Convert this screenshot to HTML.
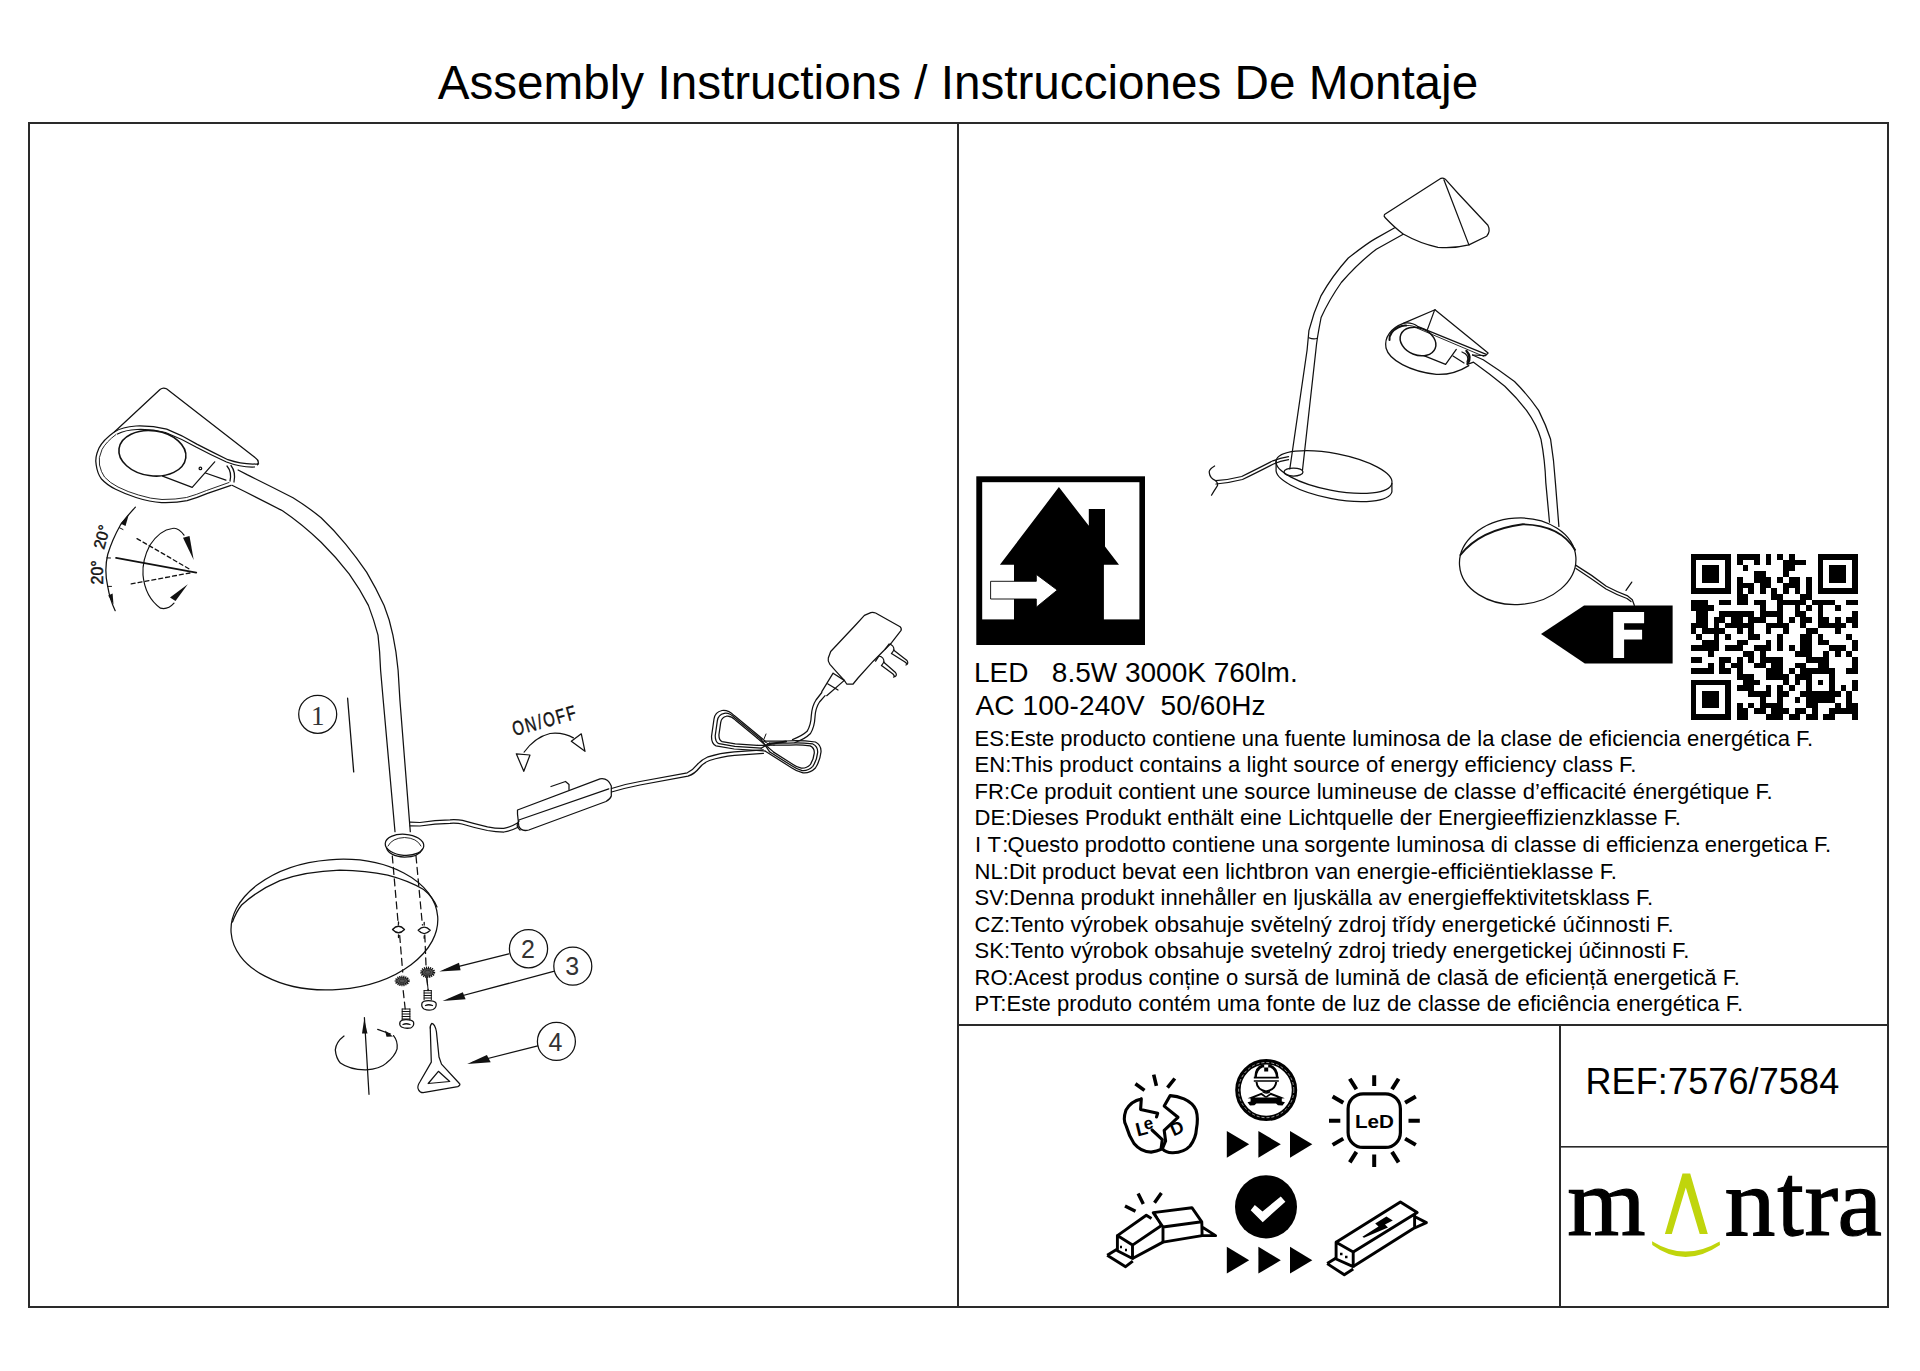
<!DOCTYPE html>
<html><head><meta charset="utf-8"><title>Assembly Instructions</title>
<style>
html,body{margin:0;padding:0;background:#fff;}
body{width:1920px;height:1371px;overflow:hidden;position:relative;font-family:"Liberation Sans",sans-serif;}
svg{position:absolute;left:0;top:0;}
.t{font-family:"Liberation Sans",sans-serif;fill:#000;}
.p{font-size:22px;}
.ln{fill:none;stroke:#000;stroke-width:1.2;stroke-linejoin:round;stroke-linecap:round;}
</style></head><body>
<svg width="1920" height="1371" viewBox="0 0 1920 1371">
<!-- frame -->
<g fill="#2a2a2a">
<rect x="28" y="122" width="1861" height="2"/>
<rect x="28" y="1306" width="1861" height="2"/>
<rect x="28" y="122" width="2" height="1186"/>
<rect x="1887" y="122" width="2" height="1186"/>
<rect x="957" y="122" width="2" height="1186"/>
<rect x="957" y="1024" width="932" height="2"/>
<rect x="1559" y="1024" width="2" height="284"/>
<rect x="1559" y="1146" width="330" height="1.6"/>
</g>
<!-- text -->
<text class="t" x="437.7" y="99" font-size="48" textLength="1040.5" lengthAdjust="spacingAndGlyphs">Assembly Instructions / Instrucciones De Montaje</text>
<text class="t" x="974" y="682.3" font-size="28" xml:space="preserve">LED   8.5W 3000K 760lm.</text>
<text class="t" x="975.5" y="714.8" font-size="28" textLength="290" xml:space="preserve">AC 100-240V  50/60Hz</text>
<g class="t p">
<text x="974.5" y="745.6" textLength="838.7">ES:Este producto contiene una fuente luminosa de la clase de eficiencia energética F.</text>
<text x="974.5" y="772.2" textLength="661.8">EN:This product contains a light source of energy efficiency class F.</text>
<text x="974.5" y="798.8" textLength="798.1">FR:Ce produit contient une source lumineuse de classe d’efficacité énergétique F.</text>
<text x="974.5" y="825.3" textLength="706.3">DE:Dieses Produkt enthält eine Lichtquelle der Energieeffizienzklasse F.</text>
<text y="851.9"><tspan x="975">I</tspan><tspan x="987.6">T</tspan><tspan x="1002.3">:</tspan></text><text x="1007.6" y="851.9" textLength="823.5">Questo prodotto contiene una sorgente luminosa di classe di efficienza energetica F.</text>
<text x="974.5" y="878.5" textLength="642.3">NL:Dit product bevat een lichtbron van energie-efficiëntieklasse F.</text>
<text x="974.5" y="905.1" textLength="678.6">SV:Denna produkt innehåller en ljuskälla av energieffektivitetsklass F.</text>
<text x="974.5" y="931.7" textLength="699.0">CZ:Tento výrobek obsahuje světelný zdroj třídy energetické účinnosti F.</text>
<text x="974.5" y="958.2" textLength="714.8">SK:Tento výrobok obsahuje svetelný zdroj triedy energetickej účinnosti F.</text>
<text x="974.5" y="984.8" textLength="765.4">RO:Acest produs conține o sursă de lumină de clasă de eficiență energetică F.</text>
<text x="974.5" y="1011.4" textLength="768.5">PT:Este produto contém uma fonte de luz de classe de eficiência energética F.</text>
</g>
<text class="t" x="1585.5" y="1094" font-size="36" textLength="253.7">REF:7576/7584</text>
<g font-family="Liberation Serif" font-size="98" fill="#000" stroke="#000" stroke-width="1.2">
<text transform="translate(1567.3,1235) scale(1.027,1)">m</text>
<text transform="translate(1724.5,1235) scale(1.039,1)">n</text>
<text transform="translate(1777.2,1235) scale(0.97,1.05)">t</text>
<text transform="translate(1804.4,1235) scale(1.03,1)">r</text>
<text transform="translate(1837.6,1235) scale(1.02,1)">a</text>
</g>
<g fill="#c0d50c">
<path d="M1664.9,1233.9 L1682.5,1173.4 L1690.2,1173.4 L1707.8,1233.9 L1699.7,1233.9 L1685.8,1187.6 L1671.8,1233.9 Z"/>
<path d="M1652,1241.2 Q1685,1261.8 1719.6,1241.4 L1720,1245 Q1685,1269 1652.3,1245 Z"/>
</g>
<!-- house / indoor icon -->
<rect x="976.3" y="476.3" width="168.7" height="168.7" fill="#000"/>
<rect x="982.2" y="482.2" width="157.2" height="137.2" fill="#fff"/>
<path fill="#000" d="M999.9,564.8 L1058.9,487.1 L1088.8,525.8 L1088.8,509.1 L1105,509.1 L1105,546.6 L1119,564.8 L1103.9,564.8 L1103.9,620 L1014,620 L1014,564.8 Z"/>
<path fill="#fff" stroke="#000" stroke-width="0.9" d="M990.6,581.3 H1036.3 V574.4 L1057.3,590.1 L1036.3,607.2 V599 H990.6 Z"/>
<!-- energy class F -->
<path fill="#000" d="M1541,633.9 L1584.1,605.6 H1672.6 V663.4 H1584.8 Z"/>
<path fill="#fff" d="M1613.2,612 H1644.1 V623.3 H1624.1 V629.7 H1642.1 V639.6 H1624.1 V658.1 H1613.2 Z"/>
<path fill="#000" shape-rendering="crispEdges" d="M1690.60,553.90h40.41v5.72h-40.41zM1736.78,553.90h23.09v5.72h-23.09zM1765.64,553.90h5.77v5.72h-5.77zM1777.19,553.90h5.77v5.72h-5.77zM1788.73,553.90h5.77v5.72h-5.77zM1817.59,553.90h40.41v5.72h-40.41zM1690.60,559.62h5.77v5.72h-5.77zM1725.23,559.62h5.77v5.72h-5.77zM1736.78,559.62h5.77v5.72h-5.77zM1754.10,559.62h5.77v5.72h-5.77zM1765.64,559.62h5.77v5.72h-5.77zM1782.96,559.62h23.09v5.72h-23.09zM1817.59,559.62h5.77v5.72h-5.77zM1852.23,559.62h5.77v5.72h-5.77zM1690.60,565.34h5.77v5.72h-5.77zM1702.14,565.34h17.32v5.72h-17.32zM1725.23,565.34h5.77v5.72h-5.77zM1742.55,565.34h5.77v5.72h-5.77zM1782.96,565.34h11.54v5.72h-11.54zM1817.59,565.34h5.77v5.72h-5.77zM1829.14,565.34h17.32v5.72h-17.32zM1852.23,565.34h5.77v5.72h-5.77zM1690.60,571.06h5.77v5.72h-5.77zM1702.14,571.06h17.32v5.72h-17.32zM1725.23,571.06h5.77v5.72h-5.77zM1754.10,571.06h11.54v5.72h-11.54zM1782.96,571.06h5.77v5.72h-5.77zM1817.59,571.06h5.77v5.72h-5.77zM1829.14,571.06h17.32v5.72h-17.32zM1852.23,571.06h5.77v5.72h-5.77zM1690.60,576.78h5.77v5.72h-5.77zM1702.14,576.78h17.32v5.72h-17.32zM1725.23,576.78h5.77v5.72h-5.77zM1736.78,576.78h5.77v5.72h-5.77zM1754.10,576.78h17.32v5.72h-17.32zM1777.19,576.78h5.77v5.72h-5.77zM1788.73,576.78h11.54v5.72h-11.54zM1806.05,576.78h5.77v5.72h-5.77zM1817.59,576.78h5.77v5.72h-5.77zM1829.14,576.78h17.32v5.72h-17.32zM1852.23,576.78h5.77v5.72h-5.77zM1690.60,582.50h5.77v5.72h-5.77zM1725.23,582.50h5.77v5.72h-5.77zM1736.78,582.50h17.32v5.72h-17.32zM1759.87,582.50h11.54v5.72h-11.54zM1782.96,582.50h17.32v5.72h-17.32zM1806.05,582.50h5.77v5.72h-5.77zM1817.59,582.50h5.77v5.72h-5.77zM1852.23,582.50h5.77v5.72h-5.77zM1690.60,588.22h40.41v5.72h-40.41zM1736.78,588.22h5.77v5.72h-5.77zM1748.32,588.22h5.77v5.72h-5.77zM1759.87,588.22h5.77v5.72h-5.77zM1771.41,588.22h5.77v5.72h-5.77zM1782.96,588.22h5.77v5.72h-5.77zM1794.50,588.22h5.77v5.72h-5.77zM1806.05,588.22h5.77v5.72h-5.77zM1817.59,588.22h40.41v5.72h-40.41zM1736.78,593.94h11.54v5.72h-11.54zM1771.41,593.94h11.54v5.72h-11.54zM1800.28,593.94h11.54v5.72h-11.54zM1690.60,599.67h17.32v5.72h-17.32zM1719.46,599.67h11.54v5.72h-11.54zM1736.78,599.67h11.54v5.72h-11.54zM1754.10,599.67h11.54v5.72h-11.54zM1777.19,599.67h28.86v5.72h-28.86zM1811.82,599.67h23.09v5.72h-23.09zM1846.46,599.67h11.54v5.72h-11.54zM1690.60,605.39h23.09v5.72h-23.09zM1759.87,605.39h5.77v5.72h-5.77zM1777.19,605.39h5.77v5.72h-5.77zM1794.50,605.39h5.77v5.72h-5.77zM1806.05,605.39h5.77v5.72h-5.77zM1817.59,605.39h5.77v5.72h-5.77zM1834.91,605.39h5.77v5.72h-5.77zM1696.37,611.11h11.54v5.72h-11.54zM1719.46,611.11h34.63v5.72h-34.63zM1759.87,611.11h23.09v5.72h-23.09zM1794.50,611.11h11.54v5.72h-11.54zM1817.59,611.11h5.77v5.72h-5.77zM1852.23,611.11h5.77v5.72h-5.77zM1696.37,616.83h11.54v5.72h-11.54zM1713.69,616.83h11.54v5.72h-11.54zM1731.01,616.83h11.54v5.72h-11.54zM1748.32,616.83h17.32v5.72h-17.32zM1777.19,616.83h5.77v5.72h-5.77zM1788.73,616.83h5.77v5.72h-5.77zM1800.28,616.83h11.54v5.72h-11.54zM1817.59,616.83h11.54v5.72h-11.54zM1834.91,616.83h5.77v5.72h-5.77zM1846.46,616.83h11.54v5.72h-11.54zM1690.60,622.55h17.32v5.72h-17.32zM1713.69,622.55h5.77v5.72h-5.77zM1725.23,622.55h28.86v5.72h-28.86zM1765.64,622.55h23.09v5.72h-23.09zM1800.28,622.55h5.77v5.72h-5.77zM1817.59,622.55h28.86v5.72h-28.86zM1852.23,622.55h5.77v5.72h-5.77zM1690.60,628.27h5.77v5.72h-5.77zM1702.14,628.27h23.09v5.72h-23.09zM1736.78,628.27h5.77v5.72h-5.77zM1748.32,628.27h5.77v5.72h-5.77zM1765.64,628.27h5.77v5.72h-5.77zM1782.96,628.27h5.77v5.72h-5.77zM1806.05,628.27h11.54v5.72h-11.54zM1834.91,628.27h5.77v5.72h-5.77zM1696.37,633.99h5.77v5.72h-5.77zM1713.69,633.99h5.77v5.72h-5.77zM1725.23,633.99h5.77v5.72h-5.77zM1748.32,633.99h11.54v5.72h-11.54zM1777.19,633.99h5.77v5.72h-5.77zM1800.28,633.99h11.54v5.72h-11.54zM1817.59,633.99h5.77v5.72h-5.77zM1846.46,633.99h5.77v5.72h-5.77zM1702.14,639.71h17.32v5.72h-17.32zM1736.78,639.71h11.54v5.72h-11.54zM1765.64,639.71h5.77v5.72h-5.77zM1777.19,639.71h5.77v5.72h-5.77zM1800.28,639.71h11.54v5.72h-11.54zM1817.59,639.71h11.54v5.72h-11.54zM1852.23,639.71h5.77v5.72h-5.77zM1690.60,645.43h28.86v5.72h-28.86zM1725.23,645.43h17.32v5.72h-17.32zM1754.10,645.43h17.32v5.72h-17.32zM1777.19,645.43h5.77v5.72h-5.77zM1788.73,645.43h5.77v5.72h-5.77zM1800.28,645.43h11.54v5.72h-11.54zM1829.14,645.43h17.32v5.72h-17.32zM1852.23,645.43h5.77v5.72h-5.77zM1707.92,651.15h5.77v5.72h-5.77zM1742.55,651.15h11.54v5.72h-11.54zM1759.87,651.15h5.77v5.72h-5.77zM1794.50,651.15h17.32v5.72h-17.32zM1823.37,651.15h5.77v5.72h-5.77zM1834.91,651.15h5.77v5.72h-5.77zM1846.46,651.15h5.77v5.72h-5.77zM1690.60,656.87h11.54v5.72h-11.54zM1719.46,656.87h11.54v5.72h-11.54zM1736.78,656.87h5.77v5.72h-5.77zM1748.32,656.87h5.77v5.72h-5.77zM1759.87,656.87h23.09v5.72h-23.09zM1806.05,656.87h23.09v5.72h-23.09zM1852.23,656.87h5.77v5.72h-5.77zM1707.92,662.59h5.77v5.72h-5.77zM1719.46,662.59h5.77v5.72h-5.77zM1731.01,662.59h11.54v5.72h-11.54zM1754.10,662.59h11.54v5.72h-11.54zM1771.41,662.59h11.54v5.72h-11.54zM1794.50,662.59h11.54v5.72h-11.54zM1817.59,662.59h11.54v5.72h-11.54zM1852.23,662.59h5.77v5.72h-5.77zM1690.60,668.31h23.09v5.72h-23.09zM1719.46,668.31h11.54v5.72h-11.54zM1736.78,668.31h5.77v5.72h-5.77zM1765.64,668.31h17.32v5.72h-17.32zM1788.73,668.31h5.77v5.72h-5.77zM1800.28,668.31h34.63v5.72h-34.63zM1846.46,668.31h11.54v5.72h-11.54zM1736.78,674.03h17.32v5.72h-17.32zM1765.64,674.03h23.09v5.72h-23.09zM1794.50,674.03h17.32v5.72h-17.32zM1829.14,674.03h5.77v5.72h-5.77zM1690.60,679.76h40.41v5.72h-40.41zM1742.55,679.76h17.32v5.72h-17.32zM1782.96,679.76h5.77v5.72h-5.77zM1794.50,679.76h5.77v5.72h-5.77zM1806.05,679.76h5.77v5.72h-5.77zM1817.59,679.76h5.77v5.72h-5.77zM1829.14,679.76h5.77v5.72h-5.77zM1852.23,679.76h5.77v5.72h-5.77zM1690.60,685.48h5.77v5.72h-5.77zM1725.23,685.48h5.77v5.72h-5.77zM1736.78,685.48h17.32v5.72h-17.32zM1765.64,685.48h5.77v5.72h-5.77zM1777.19,685.48h5.77v5.72h-5.77zM1788.73,685.48h5.77v5.72h-5.77zM1806.05,685.48h5.77v5.72h-5.77zM1829.14,685.48h5.77v5.72h-5.77zM1840.68,685.48h5.77v5.72h-5.77zM1852.23,685.48h5.77v5.72h-5.77zM1690.60,691.20h5.77v5.72h-5.77zM1702.14,691.20h17.32v5.72h-17.32zM1725.23,691.20h5.77v5.72h-5.77zM1748.32,691.20h23.09v5.72h-23.09zM1777.19,691.20h11.54v5.72h-11.54zM1800.28,691.20h40.41v5.72h-40.41zM1846.46,691.20h5.77v5.72h-5.77zM1690.60,696.92h5.77v5.72h-5.77zM1702.14,696.92h17.32v5.72h-17.32zM1725.23,696.92h5.77v5.72h-5.77zM1759.87,696.92h5.77v5.72h-5.77zM1777.19,696.92h5.77v5.72h-5.77zM1794.50,696.92h5.77v5.72h-5.77zM1806.05,696.92h28.86v5.72h-28.86zM1846.46,696.92h5.77v5.72h-5.77zM1690.60,702.64h5.77v5.72h-5.77zM1702.14,702.64h17.32v5.72h-17.32zM1725.23,702.64h5.77v5.72h-5.77zM1736.78,702.64h5.77v5.72h-5.77zM1748.32,702.64h5.77v5.72h-5.77zM1759.87,702.64h23.09v5.72h-23.09zM1806.05,702.64h11.54v5.72h-11.54zM1834.91,702.64h5.77v5.72h-5.77zM1846.46,702.64h11.54v5.72h-11.54zM1690.60,708.36h5.77v5.72h-5.77zM1725.23,708.36h5.77v5.72h-5.77zM1736.78,708.36h11.54v5.72h-11.54zM1754.10,708.36h11.54v5.72h-11.54zM1771.41,708.36h17.32v5.72h-17.32zM1794.50,708.36h11.54v5.72h-11.54zM1811.82,708.36h5.77v5.72h-5.77zM1829.14,708.36h28.86v5.72h-28.86zM1690.60,714.08h40.41v5.72h-40.41zM1736.78,714.08h11.54v5.72h-11.54zM1765.64,714.08h17.32v5.72h-17.32zM1788.73,714.08h11.54v5.72h-11.54zM1806.05,714.08h11.54v5.72h-11.54zM1823.37,714.08h11.54v5.72h-11.54zM1852.23,714.08h5.77v5.72h-5.77z"/>
<!-- triangles -->
<g fill="#000">
<path d="M1226.8,1131 L1249.2,1144.3 L1226.8,1157.8 Z"/>
<path d="M1258.4,1131 L1280.8,1144.3 L1258.4,1157.8 Z"/>
<path d="M1290,1131 L1312.3,1144.3 L1290,1157.8 Z"/>
<path d="M1226.8,1246.8 L1249.2,1260.3 L1226.8,1273.6 Z"/>
<path d="M1258.4,1246.8 L1280.8,1260.3 L1258.4,1273.6 Z"/>
<path d="M1290,1246.8 L1312.3,1260.3 L1290,1273.6 Z"/>
</g>
<!-- check circle -->
<ellipse cx="1266" cy="1206.8" rx="31" ry="31.6" fill="#000"/>
<path fill="#fff" d="M1250.7,1210.2 L1254.8,1205 L1262.5,1211.5 L1280.8,1196.5 L1285.4,1201.7 L1262.7,1222.2 Z"/>
<!-- worker circle -->
<circle cx="1266.2" cy="1090.1" r="28.3" fill="none" stroke="#000" stroke-width="5.4"/>
<circle cx="1266.2" cy="1090.1" r="27.6" fill="none" stroke="#fff" stroke-width="0.6" stroke-dasharray="3,2"/>
<path fill="#000" d="M1254.5,1077.5 Q1254,1067.5 1262,1064.5 L1264.2,1064.5 L1264.2,1071.5 L1268.2,1071.5 L1268.2,1064.5 L1270.5,1064.5 Q1278.5,1067.5 1278.3,1077.5 L1276,1077.5 Q1275.5,1070 1270,1067.5 L1262.5,1067.5 Q1257,1070 1256.8,1077.5 Z"/>
<g fill="none" stroke="#000" stroke-linejoin="round">
<path d="M1253.8,1077.6 H1278.8 M1253.8,1081 H1278.8" stroke-width="1.7"/>
<path d="M1256.5,1082 Q1257,1089.5 1266,1091.5 Q1275.5,1089.5 1276.2,1082" stroke-width="2"/>
<path d="M1262.5,1091.5 Q1266,1094.5 1270,1091.5" stroke-width="1.6"/>
</g>
<path fill="#000" d="M1252,1096.5 L1261.5,1092.8 L1266,1096.2 L1270.8,1092.8 L1280.5,1096.5 L1284.8,1098.2 L1281.8,1098.6 L1281.8,1101.6 L1285,1102.2 L1282.5,1105.4 L1278,1105.2 L1276,1103.6 H1256.4 L1254.4,1105.2 L1250,1105.4 L1247.5,1102.2 L1250.6,1101.6 L1250.6,1098.6 L1247.6,1098.2 Z"/>
<path fill="#fff" d="M1254.5,1097.6 L1261.2,1095 L1266,1098 L1270.8,1095 L1277.6,1097.6 Z"/>
<!-- LED sun -->
<rect x="1348.1" y="1093.8" width="52.3" height="53.6" rx="15" fill="none" stroke="#000" stroke-width="3.2"/>
<g stroke="#000" stroke-width="4" stroke-linecap="butt">
<path d="M1374.2,1075.2 V1086 M1374.2,1154.6 V1167 M1329,1120.7 H1340.3 M1408.5,1120.7 H1419.8"/>
<path d="M1349.8,1078.8 L1356.4,1089.3 M1398.6,1078.8 L1392,1089.3 M1349.8,1162.4 L1356.4,1151.9 M1398.6,1162.4 L1392,1151.9"/>
<path d="M1332.6,1096.5 L1343.3,1102.8 M1415.8,1096.5 L1405.1,1102.8 M1332.6,1144.9 L1343.3,1138.6 M1415.8,1144.9 L1405.1,1138.6"/>
</g>
<text x="1355" y="1128.4" font-family="Liberation Sans" font-weight="bold" font-size="17.5" textLength="39" lengthAdjust="spacingAndGlyphs">LeD</text>
<!-- broken LED -->
<g fill="none" stroke="#000" stroke-width="3.1" stroke-linejoin="round" stroke-linecap="round">
<path d="M1141.3,1098.9 Q1131,1101 1126,1110 Q1122.5,1120 1126.2,1126 Q1129,1136 1134,1143.5 Q1141,1152 1151.1,1152.1 Q1157,1151.5 1161,1149.4 L1162.3,1139.6 L1152,1130 M1141.3,1098.9 L1140.6,1109.4 L1157.7,1113.3 L1156.5,1117"/>
<path d="M1170.2,1095.6 L1164.2,1106.1 L1178,1117.3 L1164.2,1130.4 L1165.6,1140.9 L1162.3,1148.8 Q1166,1153 1173,1152.7 Q1184,1152.5 1190,1146 Q1196,1138 1196.4,1129.1 Q1198.5,1118 1196,1110 Q1193,1103 1184,1098.9 Q1177,1096 1170.2,1095.6 Z"/>
<path d="M1135.4,1083.8 L1144.5,1090.4 M1153.7,1074.6 L1156.4,1085.8 M1174.8,1078.5 L1167.5,1087.7" stroke-width="3.6" stroke-linecap="butt"/>
</g>
<g font-family="Liberation Sans" font-weight="bold" fill="#000">
<text transform="translate(1137.5,1136.5) rotate(-14)" font-size="19">L</text>
<text transform="translate(1145,1130) rotate(-14)" font-size="17">e</text>
<text transform="translate(1173.5,1136.5) rotate(-24)" font-size="18">D</text>
</g>
<!-- broken box -->
<g fill="none" stroke="#000" stroke-width="2.9" stroke-linejoin="round">
<path d="M1117.4,1235.6 L1132.5,1245.1 L1132.5,1258.5 L1117.4,1250.7 Z"/>
<path d="M1117.4,1235.6 L1146.3,1215.2 L1151.5,1218.5 M1132.5,1245.1 L1161.1,1225.7 M1132.5,1258.5 L1163,1242.1"/>
<path d="M1107.2,1255.3 L1125.6,1266.7 L1132.8,1261.2 M1107.2,1255.3 L1117.4,1249"/>
<path d="M1153.2,1212.6 L1191.9,1207.7 L1201.8,1221.8 L1163,1227 Z M1163,1227 L1163,1242.1 L1202.1,1235.6 L1201.8,1221.8 M1202.1,1227 L1215.6,1235.6 L1202.1,1235.6"/>
<path d="M1125,1206 L1135.5,1211.3 M1138.1,1193.5 L1143.3,1204 M1161.4,1192.9 L1154.5,1202.7" stroke-width="3.4"/>
<path d="M1120,1247 h2 M1125,1250 h2" stroke-width="2.5"/>
</g>
<!-- driver box -->
<g fill="none" stroke="#000" stroke-width="2.9" stroke-linejoin="round">
<path d="M1336.1,1242.3 L1353.2,1252.1 L1353.2,1266.6 L1336.1,1259 Z"/>
<path d="M1336.1,1242.3 L1400.4,1201.9 L1417.2,1212.4 L1353.2,1252.1 M1353.2,1266.6 L1414.6,1227.8 L1414.6,1214"/>
<path d="M1327.2,1263.6 L1344.3,1274.8 L1353.2,1269 M1327.2,1263.6 L1336.1,1258"/>
<path d="M1415.5,1217 L1426.4,1222.6 L1414.6,1228"/>
<path d="M1340,1254 h2.5 M1345,1257 h2.5" stroke-width="2.5"/>
</g>
<path fill="#000" d="M1362.4,1236.8 L1378.5,1226.5 L1375.2,1223.5 L1386.4,1216.6 L1392.8,1220.5 L1385,1224.5 L1388,1227.5 L1364,1237.8 Z"/>
<path fill="#000" d="M1153.2,1212.6 L1160,1225.5 L1163,1227 L1156,1213.5 Z"/>
<!-- left panel assembly drawing -->
<g fill="none" stroke="#111" stroke-width="1.25" stroke-linejoin="round" stroke-linecap="round">
<!-- shade -->
<path d="M114.6,431.7 L160,389.5 Q163,387 166.5,388.8 L255,457.5 Q260,461 257.5,464.8"/>
<!-- head outer rim -->
<path d="M114.6,431.7 Q103,440 99,448 Q94.5,458 96.2,465 Q97.5,474 101.5,479 Q107,485 115.6,489.3 Q125,494 136,497.5 Q150,502 161.6,502.6 Q176,503 187.1,500.6 Q198,497.5 207.5,493.4 L231,485.3"/>
<path d="M116,434.5 Q106,442 102,449.5 Q98,458 99.5,465 Q101,472 104.5,477 Q110,483 118,487 Q128,492 138.5,495 Q151,499 162,499.5 Q176,499.5 186.5,497.5 Q197,494.5 206.5,490.5 L229,482.5" stroke-width="0.9"/>
<!-- rim top -->
<path d="M114.6,431.7 Q122,427 136,426 Q152,425.5 166.7,429.1 Q182,435 197.3,444.4 Q212,452 227.9,459.7 Q243,465 258.6,463.8"/>
<path d="M117.5,434 Q125,430 137,429.5 Q152,429 165.5,432.5 Q181,438.5 196,447 Q211,455 226.5,462 Q241,467.5 254.5,467"/>
<!-- lens -->
<ellipse cx="152.4" cy="453.3" rx="33.7" ry="22.5" transform="rotate(8 152.4 453.3)" stroke-width="1.6"/>
<!-- mount -->
<path d="M162.6,476.1 L192.2,487.3 L214.7,461.8"/>
<circle cx="200.4" cy="468.4" r="1.3"/>
<path d="M205.5,473 L225.9,480.2"/>
<path d="M227,466 Q232,472 230,481 M231,465.5 Q236,472 234,482"/>
<!-- neck stem -->
<path d="M238.1,470 L247.5,474.9 Q270,486 293,497.7 Q308,507 321.1,517.8 Q334,530 345.6,544.1 Q357,558 366.6,572.1 Q376,588 384.1,605.4 Q390,620 392.9,635.1 Q396.5,652 398.1,670.2 L399.9,700 L410.3,831.7"/>
<path d="M232,485.3 Q258,498 282.5,510.8 Q302,524 321.1,542.3 Q336,557 349.1,573.8 Q360,589 368.4,605.4 Q374,620 378,635.1 Q380,652 380.6,670.2 L383.2,700 L395,831.7"/>
<!-- rotation indicator -->
<path d="M135.4,507.1 Q127,516 120.3,525.2 Q112,540 107.7,554.5 Q104,570 107.7,586.4 Q110,600 115.2,610.7"/>
<path d="M119.4,527.7 L123,529.5 M106.8,557.9 L110.5,558 M107.7,586.4 L111.5,586.4" stroke-width="1"/>
<path d="M116.1,557.9 L196.2,572.6" stroke-width="1.9"/>
<path d="M137,538.6 L189,568.8 M131.2,583.9 L189.9,573" stroke-dasharray="4,3" stroke-width="1.3"/>
<path d="M184,535.2 Q178,527 172.3,528.5 Q160,530 150,545 Q142,560 143,575 Q145,597 160.5,608.2 Q168,610 174,603.2" stroke-width="1.2"/>
</g>
<g fill="#111">
<path d="M120.5,523.5 L128.8,514.5 L125.5,526 Z"/>
<path d="M108.2,595.5 L113.5,604.5 L112.6,593.6 Z"/>
<path d="M183,537.8 L189.5,536 L193.7,560 Z"/>
<path d="M187.8,584.3 L175.5,601 L170,597.5 Z"/>
</g>
<g font-family="Liberation Sans" font-size="16" fill="#111" stroke="#111" stroke-width="0.45">
<text transform="translate(104,550) rotate(-75)">20°</text>
<text transform="translate(102.8,584.5) rotate(-90)">20°</text>
</g>
<g fill="none" stroke="#111" stroke-width="1.25" stroke-linejoin="round" stroke-linecap="round">
<!-- circle 1 + line -->
<circle cx="317.7" cy="714.3" r="19"/>
<path d="M347.6,698.2 L353.7,771.9" stroke-width="1.3"/>
<!-- collar -->
<ellipse cx="404.5" cy="844.8" rx="19.3" ry="10.5" transform="rotate(4 404.5 844.8)"/>
<path d="M388,846 Q392,838 404.5,837.5 Q417,838 421,846" stroke-width="0.9"/>
<path d="M386.5,848 Q389,856 404.5,857.2 Q419,857 422.5,849"/>
<!-- cord from stem to switch (double) -->
<path d="M410,822.2 L420,822.5 Q435,820 450,819.8 Q458,819.5 462.5,820.4 Q475,824 487.5,826.8 Q496,828.5 503.8,828.3 Q511,827 517.5,823"/>
<path d="M410,825.8 L420,826 Q435,823.5 450,823.3 Q458,823 462,824 Q475,828 487.5,830.5 Q496,832 504,832 Q512,830.5 518.5,827"/>
<!-- switch -->
<path d="M517.5,810 L600,778.8 Q608,777.5 611.3,786 L611.3,796 Q610.5,799 606,801.5 L528.8,830 Q521,832 518.8,826 L517.5,814 Z"/>
<path d="M518.8,820 L608.8,788.8"/>
<path d="M519,821 Q515,826 520,830"/>
<path d="M551,786.5 L565.5,781.5 L569,784.5 L569,789.5"/>
<!-- cord switch -> coil -->
<path d="M611.5,788.5 Q625,784 640,781.5 Q665,777 687.3,772.8 Q693,770 696.7,765.2 Q701,760 708.1,756.8 Q720,753 734.2,751.8 L763.3,749.8"/>
<path d="M611.5,792 Q625,788 640,785 Q665,780.5 688,776.2 Q695,773.5 698.8,768.5 Q703,763 709.5,760.5 Q721,756.5 734.5,755.3 L763.5,753.3"/>
<!-- coil -->
<path d="M765,741 L734.2,715.6 Q728,709.5 722,710.5 Q715,712 714,719 L711.5,736.5 Q711.5,744 716,745.8 L734.2,749 L765,751" transform="translate(0.00,0.00) scale(1.0)" vector-effect="non-scaling-stroke"/>
<path d="M765,741 L786.3,741 Q800,740 815.4,742 Q821.5,745 821,752 Q820,761 815.4,768 Q810,773.5 803,772.9 Q796,771 791.5,767.7 L765,751" transform="translate(0.00,0.00) scale(1.0)" vector-effect="non-scaling-stroke"/>
<path d="M765,741 L734.2,715.6 Q728,709.5 722,710.5 Q715,712 714,719 L711.5,736.5 Q711.5,744 716,745.8 L734.2,749 L765,751" transform="translate(103.32,102.34) scale(0.86)" vector-effect="non-scaling-stroke"/>
<path d="M765,741 L786.3,741 Q800,740 815.4,742 Q821.5,745 821,752 Q820,761 815.4,768 Q810,773.5 803,772.9 Q796,771 791.5,767.7 L765,751" transform="translate(111.58,105.84) scale(0.86)" vector-effect="non-scaling-stroke"/>
<path d="M765,741 L734.2,715.6 Q728,709.5 722,710.5 Q715,712 714,719 L711.5,736.5 Q711.5,744 716,745.8 L734.2,749 L765,751" transform="translate(206.64,204.68) scale(0.72)" vector-effect="non-scaling-stroke"/>
<path d="M765,741 L786.3,741 Q800,740 815.4,742 Q821.5,745 821,752 Q820,761 815.4,768 Q810,773.5 803,772.9 Q796,771 791.5,767.7 L765,751" transform="translate(223.16,211.68) scale(0.72)" vector-effect="non-scaling-stroke"/>
<path d="M761.2,739.6 L769.5,751.7 M761.2,748.2 L769.5,743.1"/>
<path d="M757.4,738.2 L774.0,752.4 M757.4,745.4 L774.0,745.2"/>
<path d="M763,741 L767,743 Q770,744 769,746 M764,739 L766,734" stroke-width="1"/>
<path d="M770,744 L786,741.5" stroke-width="2.2"/>
<!-- cable coil -> adapter -->
<path d="M792.5,739.6 Q802,736 807.1,731.3 Q811,725 811.3,715.6 Q812,706 816,700 L821.8,692.5"/>
<path d="M795,742.5 Q805,739 810.5,733.5 Q814.5,727 815,717 Q815.5,708 819.5,702 L825.1,695.7"/>
<!-- strain relief -->
<path d="M821.8,691.7 L833.1,673.2 M826.7,695.7 L844.3,680.4 M833.1,673.2 L844.3,680.4 M828,684 L838,690" />
<!-- adapter body -->
<path d="M870.8,612.6 Q873,612 875.6,613 L900.1,626.7 Q902,629 900.9,630.7 L891.6,642.7 L873.2,661.2 L858,678 L853.1,684 L846.7,684 L844.3,680.4 L836.3,671.6 L829.9,664.4 Q827.5,661 828.3,658 L830.7,651.5 L856.3,624.3 L864.4,615.4 Z"/>
<!-- prongs -->
<path d="M885.2,649.1 L889,644 Q894,645 894,650 L891.5,653.5"/>
<path d="M891.5,653.5 L905,662 Q908.5,665 906.9,663.6 M893.5,650 L907,660.5 Q909,663.5 906,665"/>
<path d="M875.6,661.2 L879,656 Q884,657 884,662 L881.5,665.5"/>
<path d="M881.5,665.5 L893,674 Q895.5,677 893.5,677 M883.5,662 L895.5,672.5 Q897.5,675.5 894.9,676.6"/>
</g>
<!-- ON/OFF -->
<text transform="translate(514.5,736) rotate(-15.5) scale(0.74,1)" font-family="Liberation Sans" font-size="20" fill="#111" stroke="#111" stroke-width="0.5" textLength="88" lengthAdjust="spacing">ON/OFF</text>
<g fill="none" stroke="#111" stroke-width="1.25" stroke-linejoin="round">
<path d="M523.8,752.5 Q535,737 550,733.5 Q563,732 573.8,738.1"/>
<path d="M516.3,753.8 L530,755 L523.8,771.3 Z"/>
<path d="M571.3,741.3 L581.3,733.8 L585,751.3 Z"/>
</g>
<g fill="none" stroke="#111" stroke-width="1.25" stroke-linejoin="round" stroke-linecap="round">
<!-- base -->
<ellipse cx="334.4" cy="924.6" rx="103.6" ry="65" transform="rotate(-4.5 334.4 924.6)"/>
<path d="M232.5,922 Q236,912 241.6,905 Q258,890 279.9,880.6 Q305,871.5 339.8,870.2 Q366,870.5 387.7,875.2 Q408,880.5 423.6,889.5 Q433,897 437,907"/>
<!-- dashed guide lines -->
<path d="M392.3,856 L398.3,925 M399.7,935.5 L402.7,972 M403.2,990.6 L405.3,1010" stroke-dasharray="7,4.5"/>
<path d="M416,856 L422.4,925 M424.8,935 L426,965 M426.7,978 L428.2,990.6" stroke-dasharray="7,4.5"/>
<!-- holes -->
<path d="M392.5,929.5 Q398.5,923 404.5,929.5 Q398.5,936 392.5,929.5 Z M398.5,924 L398.5,922 M398.5,935 L398.5,937.5" stroke-width="1.3"/>
<path d="M418.2,930.3 Q424.2,923.8 430.2,930.3 Q424.2,936.8 418.2,930.3 Z M424.2,925 L424.2,922.5 M424.2,935.8 L424.2,938.3" stroke-width="1.3"/>
<!-- screws -->
<path d="M402.2,1009 L402.2,1020 M409.9,1009 L409.9,1020 M402.2,1009 L409.9,1009 M402.2,1011.5 H409.9 M402.2,1014 H409.9 M402.2,1016.5 H409.9 M402.2,1019 H409.9" stroke-width="1"/>
<path d="M400,1022 Q401,1019.5 406,1019.5 Q412,1019.5 413.5,1022 Q414.5,1026 411,1027.8 Q406,1029 401.5,1027 Q399,1025 400,1022 Z M403,1024.5 Q406,1023 410,1024.5"/>
<path d="M424.1,990.6 L424.1,999.8 M431.3,990.6 L431.3,999.8 M424.1,990.6 H431.3 M424.1,993 H431.3 M424.1,995.5 H431.3 M424.1,998 H431.3" stroke-width="1"/>
<path d="M422,1003 Q423,1000.5 428.5,1000.5 Q434.5,1000.5 436,1003 Q437,1007.5 433,1009.5 Q428.5,1011 424,1009 Q421,1007 422,1003 Z M425.5,1005.5 Q428.5,1004 432.5,1005.5"/>
<path d="M426.7,976.3 L428.2,990.6" stroke-width="1"/>
<!-- allen key -->
<path d="M431.8,1023.3 Q429.5,1026 430.3,1029.4 L431.3,1062.1 L420.1,1081.5 Q416.5,1087 418.5,1089.7 Q420,1092.7 423.1,1092.7 L457.8,1086.6 Q461,1085 459.4,1083.5 L441.5,1064.1 L439,1057 L436.4,1031.5 Q435,1024 431.8,1023.3 Z"/>
<path d="M428.2,1083.5 L438.4,1071.3 L449.7,1081.5 Z"/>
<!-- rotation arrow -->
<path d="M369,1094.3 L364.4,1017.7"/>
<path d="M344,1036 Q336,1042 335.3,1049.9 Q336,1058 340.4,1063.1 Q350,1070 366,1069.8 Q380,1069 386.4,1063.1 Q395,1056 397.1,1048.8 Q398,1041 393.5,1035.6"/>
<path d="M377.7,1029.4 L390.5,1034"/>
<!-- circles 2,3,4 -->
<circle cx="528.5" cy="948.7" r="19.1"/>
<circle cx="572.8" cy="966.2" r="19"/>
<circle cx="556.4" cy="1041.4" r="19"/>
<!-- arrows -->
<path d="M508.8,953.9 L445,969.8 M553.6,971.4 L448,999.5 M537.8,1045.8 L472,1062.5"/>
</g>
<g fill="#111">
<path d="M362,1033.5 L364.2,1019 L367.5,1033.5 Z"/>
<path d="M385,1030.5 L393,1036.5 L386.5,1036.8 Z"/>
<path d="M439.3,971.4 L459,962.7 L460.6,970.3 Z"/>
<path d="M442.6,1001 L462.8,992.2 L465.6,999.3 Z"/>
<path d="M467.2,1063.9 L486.9,1055.1 L490.7,1062.2 Z"/>
</g>
<!-- washers -->
<g fill="#555" stroke="#111" stroke-width="2.6" stroke-dasharray="1.1,0.8">
<ellipse cx="402.2" cy="980.9" rx="6.2" ry="4"/>
<ellipse cx="427.7" cy="972.3" rx="6.2" ry="4.4"/>
</g>
<g fill="none" stroke="#333" stroke-width="1">
<ellipse cx="402.2" cy="980.9" rx="3" ry="1.8"/>
<ellipse cx="427.7" cy="972.3" rx="3" ry="2"/>
</g>
<g font-family="Liberation Sans" fill="#333" font-size="25">
<text x="311" y="724.5" font-family="Liberation Serif" font-size="27">1</text>
<text x="521" y="957.7">2</text>
<text x="565.3" y="975.3">3</text>
<text x="548.5" y="1050.5">4</text>
</g>
<!-- right panel lamp drawings -->
<g fill="none" stroke="#111" stroke-width="1.25" stroke-linejoin="round" stroke-linecap="round">
<!-- lamp 1 shade -->
<path d="M1441,178.3 L1384.5,214.5 Q1383.5,216 1385,217.5 Q1395,228 1403.2,234 Q1420,243.5 1438,247.3 Q1455,248.5 1468.9,244.9 L1486.6,236.3 Q1491,231 1487.9,225.2 L1457.7,193 L1445.3,179.2 Q1443,177.5 1441,178.3 Z"/>
<path d="M1443.9,179.8 L1468.9,244.9"/>
<!-- lamp 1 stem -->
<path d="M1394.7,227.8 L1375,238.9 Q1367.5,243.1 1348.3,258 Q1332.5,275.5 1321.1,295.6 Q1313.3,313.2 1308.9,330.7 L1307.1,350 L1289.8,469"/>
<path d="M1403.2,234.3 L1376.3,249.3 Q1358.8,262.4 1341.3,282.5 Q1329,300 1321.1,317.5 Q1316.8,339.4 1315.9,350 L1302.5,470"/>
<path d="M1308.9,337.7 Q1313,339.5 1316.8,338.5"/>
<!-- lamp 1 base -->
<ellipse cx="1334" cy="472" rx="59" ry="18.5" transform="rotate(11 1334 472)"/>
<path d="M1276.1,460.7 L1276.1,469.2 A59,18.5 11 0 0 1391.9,491.8 L1391.9,483.3" transform="translate(0,0)"/>
<ellipse cx="1293.5" cy="472" rx="9.5" ry="4"/>
<!-- lamp1 cord -->
<path d="M1288.5,456.7 Q1280,458 1272.9,460.8 Q1255,470 1241.7,476.5 Q1228,480 1215.6,480.6"/>
<path d="M1288.5,459.7 Q1280,461 1273.5,464 Q1256,473 1242.5,479.5 Q1228,483 1216,484"/>
<path d="M1214.6,466 Q1208,470 1209.4,473.3 Q1210,478 1215.6,480.6 Q1219,484 1216.7,486.9 Q1214,491 1211.5,495.2"/>
<!-- lamp 2 head -->
<path d="M1435,309.7 L1403.8,323.1 C1391,328 1384,337 1386,348 C1389,360 1410,371.5 1436.3,374.4 C1450,375 1461,370.5 1468.8,365.6"/>
<path d="M1435,309.7 L1488.1,353.1 L1485.6,355.6 L1472.5,355"/>
<path d="M1434.4,310.6 L1427.5,329.4"/>
<path d="M1403.8,323.1 Q1412,322 1417.5,326.3 L1486.3,354.4"/>
<path d="M1406,325.5 Q1413,325 1418,328.5 L1484,356.5" stroke-width="0.9"/>
<path d="M1389.5,340 Q1389,332 1398,327.5 Q1403,325 1406,325.5" stroke-width="2"/>
<ellipse cx="1418" cy="341.5" rx="18.5" ry="13.5" transform="rotate(22 1418 341.5)" stroke-width="1.5"/>
<path d="M1423.8,355.6 L1445.6,364.4 L1456.3,349.4"/>
<path d="M1453,356 L1464,363 M1462,352 Q1470,355 1467,362" />
<path d="M1466.5,351 Q1472,357 1467.5,364" stroke-width="2.4"/>
<!-- lamp 2 stem -->
<path d="M1468.8,363.8 L1473.5,362.2 Q1490,374 1504.8,386.3 Q1517,398 1526.5,410.4 Q1537,425 1541,439.3 Q1545,460 1545.8,482.6 L1549.5,522.2"/>
<path d="M1472.5,355 L1483.2,359.8 Q1499,370 1514.5,381.5 Q1528,395 1538.6,410.4 Q1546,425 1550.6,439.3 Q1554,460 1555.4,482.6 L1558.9,526.4"/>
<!-- lamp 2 base -->
<ellipse cx="1517.7" cy="561.3" rx="58.3" ry="43.2" transform="rotate(-4 1517.7 561.3)"/>
<path d="M1460.4,555 Q1480,530 1522.9,524.3 Q1560,525 1575,549.8" stroke-width="1.9"/>
<!-- lamp 2 cord -->
<path d="M1576,565.4 Q1592,575 1606.3,586.3 Q1617,592 1627.1,595.6 L1632.3,599.8 L1634.4,605.5"/>
<path d="M1576,568.5 Q1592,579 1606,589 Q1617,595 1627,598.5 L1631,601.5"/>
<path d="M1626,590.4 L1631.8,582.1"/>
</g>
</svg>
</body></html>
